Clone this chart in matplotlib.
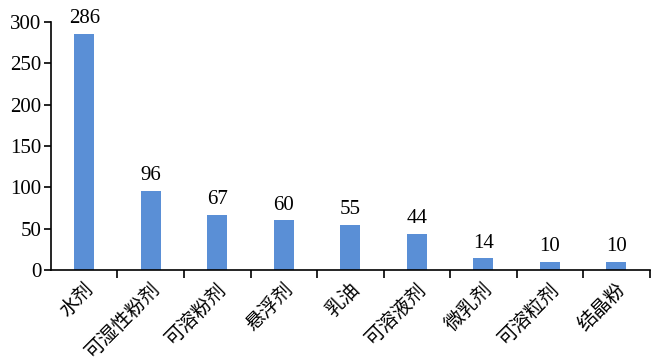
import matplotlib
matplotlib.use("Agg")
import matplotlib.pyplot as plt
import numpy as np

# 剂型 与 数量
categories = ["水剂", "可湿性粉剂", "可溶粉剂", "悬浮剂", "乳油", "可溶液剂", "微乳剂", "可溶粒剂", "结晶粉"]
counts = [286, 96, 67, 60, 55, 44, 14, 10, 10]

plt.rcParams['font.family'] = ['Liberation Serif', 'Noto Sans CJK SC']

fig = plt.figure(figsize=(6.53, 3.62), dpi=100)
ax = fig.add_axes([0.078, 0.254, 0.917, 0.685])

x = np.arange(len(categories))
bars = ax.bar(x, counts, width=0.3, color="#5A8FD6")
for xi, v in zip(x, counts):
    ax.text(xi, v + 7, str(v), ha="center", va="bottom", fontsize=15)

ax.set_xlim(-0.5, len(categories) - 0.5)
ax.set_ylim(0, 300)
ax.set_yticks(np.arange(0, 301, 50))
ax.tick_params(axis="y", labelsize=15, direction="out", length=5, width=1.2, pad=2)

ax.set_xticks(x)
ax.set_xticklabels(categories, rotation=45, ha="right", rotation_mode="anchor", fontsize=14)
ax.tick_params(axis="x", which="major", length=0, pad=7)
ax.set_xticks(np.arange(0.5, len(categories), 1), minor=True)
ax.tick_params(axis="x", which="minor", direction="out", length=6, width=1.2)

for s in ["top", "right"]:
    ax.spines[s].set_visible(False)
for s in ["left", "bottom"]:
    ax.spines[s].set_linewidth(1.2)

fig.savefig("out.png", dpi=100)
